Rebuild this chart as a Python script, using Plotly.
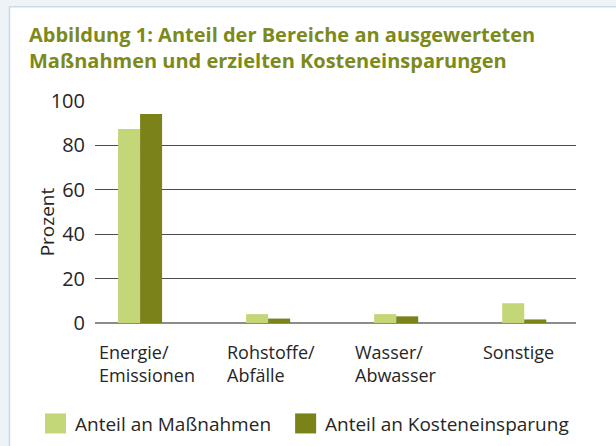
import plotly.graph_objects as go

# ---- data ----
categories = ["Energie/<br>Emissionen", "Rohstoffe/<br>Abfälle", "Wasser/<br>Abwasser", "Sonstige"]
series_names = ["Anteil an Maßnahmen", "Anteil an Kosteneinsparung"]
massnahmen = [87.4, 4.0, 4.0, 8.9]
kosteneinsparung = [94.1, 2.0, 3.0, 1.6]
y_ticks = [0, 20, 40, 60, 80, 100]
title_lines = ["Abbildung 1: Anteil der Bereiche an ausgewerteten",
               "Maßnahmen und erzielten Kosteneinsparungen"]
y_title = "Prozent"

# ---- styles ----
LIGHT = "#c3d678"
DARK = "#7b8219"
TITLE_C = "#7b8a1b"
TXT = "#262626"
FONT = "Open Sans"
W, H = 616, 446
L, R, T, B = 95, 40.3, 101, 123.3
PW, PH = W - L - R, H - T - B

def px_x(px):
    return (px - L) / PW

def px_y(py):
    return (H - B - py) / PH

fig = go.Figure()
fig.add_trace(go.Bar(x=categories, y=massnahmen, name=series_names[0],
                     marker=dict(color=LIGHT, line=dict(width=0)), showlegend=False))
fig.add_trace(go.Bar(x=categories, y=kosteneinsparung, name=series_names[1],
                     marker=dict(color=DARK, line=dict(width=0)), showlegend=False))

shapes = [
    # white panel with light-blue border (outer frame)
    dict(type="rect", xref="paper", yref="paper", layer="below",
         x0=px_x(9.5), x1=px_x(640), y0=px_y(470), y1=px_y(7),
         fillcolor="white", line=dict(color="#c9dbe8", width=1.5)),
]
annotations = []

# title (two lines in one text block)
annotations.append(dict(text="<b>" + "<br>".join(title_lines) + "</b>", xref="paper", yref="paper",
                        x=px_x(27), y=px_y(47.5), xanchor="left", yanchor="middle", align="left",
                        showarrow=False, font=dict(family=FONT, size=20, color=TITLE_C)))

# y title
annotations.append(dict(text=y_title, xref="paper", yref="paper", x=px_x(46.7), y=px_y(221.5),
                        textangle=-90, showarrow=False, xanchor="center", yanchor="middle",
                        font=dict(family=FONT, size=19, color=TXT)))

# category labels (left-aligned under each group)
for cat in categories:
    annotations.append(dict(text=cat, xref="x", yref="paper", x=cat, xshift=-43,
                            y=px_y(338), xanchor="left", yanchor="top", align="left",
                            showarrow=False, font=dict(family=FONT, size=18, color=TXT)))

# legend (manual, squares + labels)
legend_x = [45, 295]
for name, color, lx in zip(series_names, [LIGHT, DARK], legend_x):
    shapes.append(dict(type="rect", xref="paper", yref="paper",
                       x0=px_x(lx), x1=px_x(lx + 21), y0=px_y(433), y1=px_y(413),
                       fillcolor=color, line=dict(width=0)))
    annotations.append(dict(text=name, xref="paper", yref="paper", x=px_x(lx + 28),
                            y=px_y(424), xanchor="left", yanchor="middle", showarrow=False,
                            font=dict(family=FONT, size=19, color=TXT)))

fig.update_layout(
    width=W, height=H,
    margin=dict(l=L, r=R, t=T, b=B, pad=0),
    paper_bgcolor="#eef3f8", plot_bgcolor="white",
    barmode="group", bargap=0.656, bargroupgap=0,
    shapes=shapes, annotations=annotations,
    font=dict(family=FONT, size=19, color=TXT),
    xaxis=dict(range=[-0.352, 3.404], showticklabels=False, showgrid=False,
               zeroline=False, showline=False, ticks=""),
    yaxis=dict(range=[0, 100], tickvals=y_ticks, showgrid=True, gridcolor="#4a4a4a",
               gridwidth=1, zeroline=True, zerolinecolor="#8c8c8c", zerolinewidth=2,
               showline=False, ticks="", ticklabelstandoff=9,
               tickfont=dict(family=FONT, size=20, color=TXT)),
)

fig.write_html("out.html", config={"displayModeBar": False},
               post_script="document.body.style.margin='0';document.body.style.overflow='hidden';")
